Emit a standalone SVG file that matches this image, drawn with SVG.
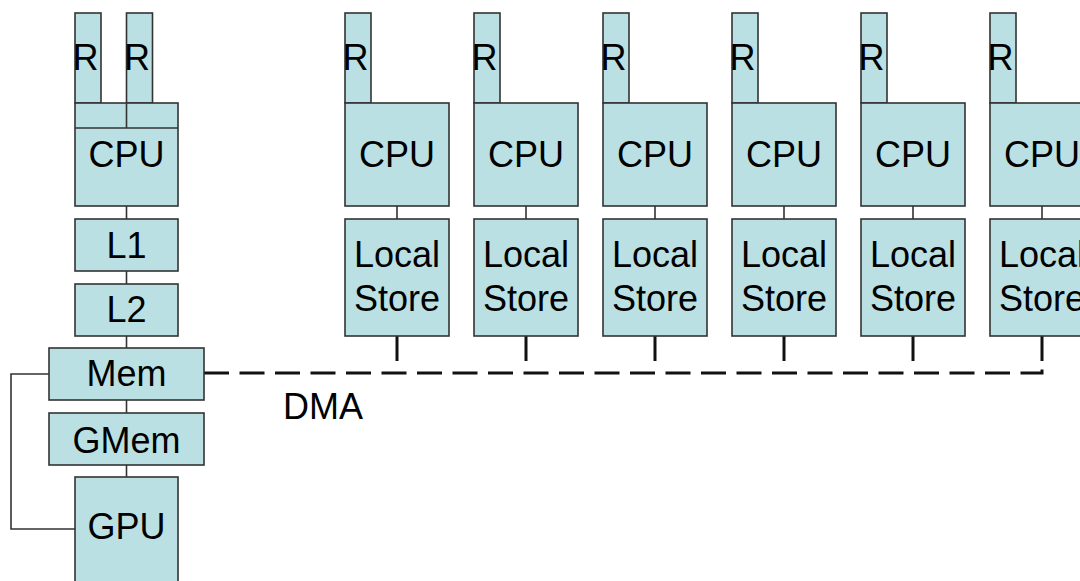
<svg xmlns="http://www.w3.org/2000/svg" width="1080" height="581" viewBox="0 0 1080 581">
  <style>
    .box { fill: #BAE0E3; stroke: #333333; stroke-width: 1.6; }
    .wire { fill: none; stroke: #333333; stroke-width: 1.6; }
    .drop { fill: none; stroke: #111111; stroke-width: 3; }
    .bus { fill: none; stroke: #111111; stroke-width: 3; stroke-dasharray: 25 10.5; }
    .lbl { font-family: "Liberation Sans", Arial, sans-serif; font-size: 36px; fill: #000000; text-anchor: middle; }
    .reg { font-family: "Liberation Sans", Arial, sans-serif; font-size: 36px; fill: #000000; text-anchor: start; }
  </style>
  <rect width="1080" height="581" fill="#FFFFFF"/>

  <!-- connectors -->
  <g id="connectors">
    <!-- host chain -->
    <line class="wire" x1="126.5" y1="206" x2="126.5" y2="219"/>
    <line class="wire" x1="126.5" y1="271" x2="126.5" y2="284"/>
    <line class="wire" x1="126.5" y1="336" x2="126.5" y2="348"/>
    <line class="wire" x1="126.5" y1="400" x2="126.5" y2="413"/>
    <line class="wire" x1="126.5" y1="465" x2="126.5" y2="477"/>
    <!-- Mem to GPU side link -->
    <polyline class="wire" points="49,374 11,374 11,529 75,529"/>
    <!-- CPU to local store links -->
    <line class="wire" x1="397" y1="206" x2="397" y2="219"/>
    <line class="wire" x1="526" y1="206" x2="526" y2="219"/>
    <line class="wire" x1="655" y1="206" x2="655" y2="219"/>
    <line class="wire" x1="784" y1="206" x2="784" y2="219"/>
    <line class="wire" x1="913" y1="206" x2="913" y2="219"/>
    <line class="wire" x1="1042" y1="206" x2="1042" y2="219"/>
    <!-- local store drops to the DMA bus -->
    <line class="drop" x1="397" y1="336" x2="397" y2="361"/>
    <line class="drop" x1="526" y1="336" x2="526" y2="361"/>
    <line class="drop" x1="655" y1="336" x2="655" y2="361"/>
    <line class="drop" x1="784" y1="336" x2="784" y2="361"/>
    <line class="drop" x1="913" y1="336" x2="913" y2="361"/>
    <line class="drop" x1="1042" y1="336" x2="1042" y2="361"/>
    <!-- DMA bus -->
    <path class="bus" d="M204,373 H1042 V369"/>
  </g>

  <!-- host processor -->
  <g id="host-cpu">
    <rect class="box" x="75" y="13" width="26" height="90"/>
    <rect class="box" x="126.5" y="13" width="26" height="90"/>
    <rect class="box" x="75" y="103" width="103" height="103"/>
    <line class="wire" x1="75" y1="128" x2="178" y2="128"/>
    <line class="wire" x1="126.5" y1="103" x2="126.5" y2="128"/>
    <text class="reg" x="72.5" y="70">R</text>
    <text class="reg" x="124" y="70">R</text>
    <text class="lbl" x="126.5" y="167">CPU</text>
  </g>
  <g id="l1">
    <rect class="box" x="75" y="219" width="103" height="52"/>
    <text class="lbl" x="126.5" y="258">L1</text>
  </g>
  <g id="l2">
    <rect class="box" x="75" y="284" width="103" height="52"/>
    <text class="lbl" x="126.5" y="322">L2</text>
  </g>
  <g id="mem">
    <rect class="box" x="49" y="348" width="155" height="52"/>
    <text class="lbl" x="126.5" y="386">Mem</text>
  </g>
  <g id="gmem">
    <rect class="box" x="49" y="413" width="155" height="52"/>
    <text class="lbl" x="126.5" y="453">GMem</text>
  </g>
  <g id="gpu">
    <rect class="box" x="75" y="477" width="103" height="115"/>
    <text class="lbl" x="126.5" y="539">GPU</text>
  </g>

  <!-- DMA label -->
  <g id="dma-label">
    <text class="reg" x="283" y="419">DMA</text>
  </g>

  <!-- accelerator cores: register, CPU, local store -->
  <g id="core-1">
    <rect class="box" x="345" y="13" width="26" height="90"/>
    <rect class="box" x="345" y="103" width="104" height="103"/>
    <rect class="box" x="345" y="219" width="104" height="117"/>
    <text class="reg" x="342.5" y="70">R</text>
    <text class="lbl" x="397" y="167">CPU</text>
    <text class="lbl" x="397" y="267">Local</text>
    <text class="lbl" x="397" y="311">Store</text>
  </g>
  <g id="core-2">
    <rect class="box" x="474" y="13" width="26" height="90"/>
    <rect class="box" x="474" y="103" width="104" height="103"/>
    <rect class="box" x="474" y="219" width="104" height="117"/>
    <text class="reg" x="471.5" y="70">R</text>
    <text class="lbl" x="526" y="167">CPU</text>
    <text class="lbl" x="526" y="267">Local</text>
    <text class="lbl" x="526" y="311">Store</text>
  </g>
  <g id="core-3">
    <rect class="box" x="603" y="13" width="26" height="90"/>
    <rect class="box" x="603" y="103" width="104" height="103"/>
    <rect class="box" x="603" y="219" width="104" height="117"/>
    <text class="reg" x="600.5" y="70">R</text>
    <text class="lbl" x="655" y="167">CPU</text>
    <text class="lbl" x="655" y="267">Local</text>
    <text class="lbl" x="655" y="311">Store</text>
  </g>
  <g id="core-4">
    <rect class="box" x="732" y="13" width="26" height="90"/>
    <rect class="box" x="732" y="103" width="104" height="103"/>
    <rect class="box" x="732" y="219" width="104" height="117"/>
    <text class="reg" x="729.5" y="70">R</text>
    <text class="lbl" x="784" y="167">CPU</text>
    <text class="lbl" x="784" y="267">Local</text>
    <text class="lbl" x="784" y="311">Store</text>
  </g>
  <g id="core-5">
    <rect class="box" x="861" y="13" width="26" height="90"/>
    <rect class="box" x="861" y="103" width="104" height="103"/>
    <rect class="box" x="861" y="219" width="104" height="117"/>
    <text class="reg" x="858.5" y="70">R</text>
    <text class="lbl" x="913" y="167">CPU</text>
    <text class="lbl" x="913" y="267">Local</text>
    <text class="lbl" x="913" y="311">Store</text>
  </g>
  <g id="core-6">
    <rect class="box" x="990" y="13" width="26" height="90"/>
    <rect class="box" x="990" y="103" width="104" height="103"/>
    <rect class="box" x="990" y="219" width="104" height="117"/>
    <text class="reg" x="987.5" y="70">R</text>
    <text class="lbl" x="1042" y="167">CPU</text>
    <text class="lbl" x="1042" y="267">Local</text>
    <text class="lbl" x="1042" y="311">Store</text>
  </g>
</svg>
